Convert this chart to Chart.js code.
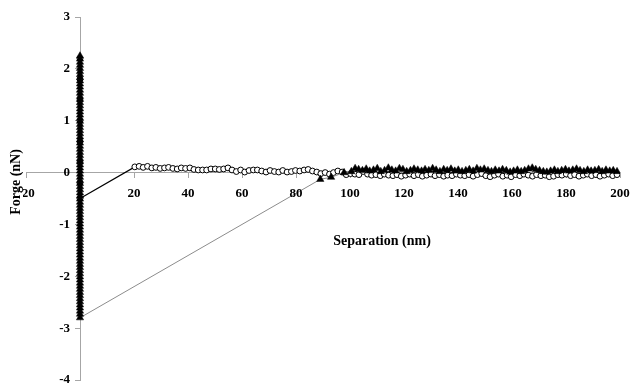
<!DOCTYPE html>
<html>
<head>
<meta charset="utf-8">
<script src="https://cdn.jsdelivr.net/npm/chart.js@4"></script>
<style>
  body { margin: 0; background: #fff; }
</style>
</head>
<body>
<canvas id="ChartForce" width="636" height="385"></canvas>
<script>
// approach curve (open circles): contact part at separation 0, then the baseline
const approachContactForce = [2.2, 1.8, 1.4, 1.0, 0.6, 0.2, -0.2, -0.5];
const approachSep = [
  20.3, 21.9, 23.4, 25.0, 26.6, 28.1, 29.7, 31.3, 32.8, 34.4,
  36.0, 37.5, 39.1, 40.7, 42.2, 43.8, 45.4, 46.9, 48.5, 50.1,
  51.6, 53.2, 54.8, 56.3, 57.9, 59.5, 61.0, 62.6, 64.2, 65.7,
  67.3, 68.9, 70.4, 72.0, 73.6, 75.1, 76.7, 78.3, 79.8, 81.4,
  83.0, 84.5, 86.1, 87.7, 89.2, 90.8, 92.4, 93.9, 95.5, 97.1,
  98.6, 100.2, 101.8, 103.3, 104.9, 106.5, 108.0, 109.6, 111.2, 112.7,
  114.3, 115.9, 117.4, 119.0, 120.6, 122.1, 123.7, 125.3, 126.8, 128.4,
  130.0, 131.5, 133.1, 134.7, 136.2, 137.8, 139.4, 140.9, 142.5, 144.1,
  145.6, 147.2, 148.8, 150.3, 151.9, 153.5, 155.0, 156.6, 158.2, 159.7,
  161.3, 162.9, 164.4, 166.0, 167.6, 169.1, 170.7, 172.3, 173.8, 175.4,
  177.0, 178.5, 180.1, 181.7, 183.2, 184.8, 186.4, 187.9, 189.5, 191.1,
  192.6, 194.2, 195.8, 197.3, 198.9
];
const approachForce = [
  0.11, 0.12, 0.10, 0.12, 0.09, 0.10, 0.08, 0.09, 0.10, 0.08,
  0.07, 0.09, 0.08, 0.09, 0.06, 0.05, 0.05, 0.05, 0.07, 0.07,
  0.06, 0.07, 0.09, 0.05, 0.02, 0.05, 0.01, 0.04, 0.05, 0.05,
  0.03, 0.01, 0.04, 0.02, 0.01, 0.04, 0.01, 0.02, 0.04, 0.03,
  0.05, 0.06, 0.03, 0.01, -0.02, 0.0, -0.03, 0.0, 0.03, 0.01,
  -0.04, -0.02, -0.03, -0.04, 0.02, -0.03, -0.05, -0.04, -0.06, -0.03,
  -0.05, -0.06, -0.04, -0.07, -0.05, -0.03, -0.06, -0.04, -0.07, -0.05,
  -0.03, -0.06, -0.04, -0.07, -0.05, -0.06, -0.03, -0.05, -0.06, -0.04,
  -0.07, -0.04, -0.02, -0.06, -0.08, -0.05, -0.03, -0.07, -0.05, -0.08,
  -0.04, -0.06, -0.03, -0.05, -0.07, -0.04, -0.06, -0.05, -0.08, -0.07,
  -0.04, -0.05, -0.03, -0.06, -0.04, -0.07, -0.05, -0.03, -0.06, -0.04,
  -0.07, -0.05, -0.03, -0.06, -0.04
];

// retraction curve (filled triangles): contact part at separation 0, then the baseline
const retractContactForce = [
  2.25, 2.19, 2.13, 2.07, 2.01, 1.95, 1.89, 1.83, 1.77, 1.71,
  1.65, 1.59, 1.53, 1.47, 1.41, 1.35, 1.29, 1.23, 1.17, 1.11,
  1.05, 0.99, 0.93, 0.87, 0.81, 0.75, 0.69, 0.63, 0.57, 0.51,
  0.45, 0.39, 0.33, 0.27, 0.21, 0.15, 0.09, 0.03, -0.03, -0.09,
  -0.15, -0.21, -0.27, -0.33, -0.39, -0.45, -0.51, -0.57, -0.63, -0.69,
  -0.75, -0.81, -0.87, -0.93, -0.99, -1.05, -1.11, -1.17, -1.23, -1.29,
  -1.35, -1.41, -1.47, -1.53, -1.59, -1.65, -1.71, -1.77, -1.83, -1.89,
  -1.95, -2.01, -2.07, -2.13, -2.19, -2.25, -2.31, -2.37, -2.43, -2.49,
  -2.55, -2.61, -2.67, -2.73, -2.80
];
const retractSep = [
  89.0, 93.0, 97.8,
  100.5, 101.9, 103.2, 104.6, 106.0, 107.3, 108.7, 110.1, 111.4, 112.8,
  114.2, 115.5, 116.9, 118.3, 119.6, 121.0, 122.4, 123.7, 125.1, 126.5,
  127.8, 129.2, 130.6, 131.9, 133.3, 134.7, 136.0, 137.4, 138.8, 140.1,
  141.5, 142.9, 144.2, 145.6, 147.0, 148.3, 149.7, 151.1, 152.4, 153.8,
  155.2, 156.5, 157.9, 159.3, 160.6, 162.0, 163.4, 164.7, 166.1, 167.5,
  168.8, 170.2, 171.6, 172.9, 174.3, 175.7, 177.0, 178.4, 179.8, 181.1,
  182.5, 183.9, 185.2, 186.6, 188.0, 189.3, 190.7, 192.1, 193.4, 194.8,
  196.2, 197.5, 198.9
];
const retractForce = [
  -0.13, -0.09, 0.0,
  0.02, 0.08, 0.06, 0.04, 0.07, 0.03, 0.05, 0.08, 0.02, 0.04,
  0.09, 0.05, 0.03, 0.08, 0.06, 0.02, 0.04, 0.07, 0.05, 0.03,
  0.06, 0.04, 0.08, 0.05, 0.02, 0.06, 0.04, 0.07, 0.03, 0.05,
  0.02, 0.04, 0.06, 0.03, 0.08, 0.05, 0.07, 0.04, 0.02, 0.05,
  0.03, 0.06, 0.04, 0.01, 0.03, 0.05, 0.02, 0.04, 0.07, 0.09,
  0.06, 0.04, 0.02, 0.01, 0.03, 0.05, 0.02, 0.04, 0.06, 0.03,
  0.05, 0.07, 0.04, 0.02, 0.05, 0.03, 0.04, 0.06, 0.02, 0.05,
  0.03, 0.04, 0.02
];

const xTitle = "Separation (nm)";
const yTitle = "Forge (nN)";

const approachPoints = approachContactForce.map(f => ({ x: 0, y: f }))
  .concat(approachSep.map((s, i) => ({ x: s, y: approachForce[i] })));
const retractPoints = retractContactForce.map(f => ({ x: 0, y: f }))
  .concat(retractSep.map((s, i) => ({ x: s, y: retractForce[i] })));

const fontFamily = "'Liberation Serif', 'Times New Roman', serif";
const axisGrey = "#a6a6a6";

// tick labels and axis titles drawn by hand, the axes cross at 0 like the original
const labelsPlugin = {
  id: "labels",
  afterDraw(chart) {
    const ctx = chart.ctx;
    const xs = chart.scales.x;
    const ys = chart.scales.y;
    const axisX = xs.getPixelForValue(0);
    const axisY = ys.getPixelForValue(0);
    ctx.save();
    ctx.font = "bold 13px " + fontFamily;
    ctx.fillStyle = "#000";
    ctx.textBaseline = "middle";
    ctx.textAlign = "right";
    ys.ticks.forEach(t => {
      ctx.fillText(String(t.value), axisX - 10, ys.getPixelForValue(t.value));
    });
    ctx.textAlign = "center";
    xs.ticks.forEach(t => {
      if (t.value === 0) return;
      ctx.fillText(String(t.value), xs.getPixelForValue(t.value), axisY + 21);
    });
    ctx.font = "bold 14px " + fontFamily;
    ctx.fillText(xTitle, 382, 241);
    ctx.translate(16, 182);
    ctx.rotate(-Math.PI / 2);
    const w = ctx.measureText(yTitle).width;
    ctx.fillStyle = "#fff";
    ctx.fillRect(-w / 2 - 1, -7, w + 2, 14);
    ctx.fillStyle = "#000";
    ctx.fillText(yTitle, 0, 0);
    ctx.restore();
  },
};

new Chart(document.getElementById("ChartForce"), {
  type: "scatter",
  data: {
    datasets: [
      {
        label: "Retract",
        data: retractPoints,
        showLine: true,
        borderColor: "#8c8c8c",
        borderWidth: 1,
        pointStyle: "triangle",
        pointRadius: 4.2,
        pointBackgroundColor: "#000",
        pointBorderColor: "#000",
        pointBorderWidth: 0.5,
      },
      {
        label: "Approach",
        data: approachPoints,
        showLine: true,
        borderColor: "#000",
        borderWidth: 1.2,
        pointStyle: "circle",
        pointRadius: 2.9,
        pointBackgroundColor: "#fff",
        pointBorderColor: "#000",
        pointBorderWidth: 1,
      },
    ],
  },
  options: {
    responsive: false,
    animation: false,
    layout: { padding: { left: 26, right: 16, top: 17, bottom: 5 } },
    plugins: {
      legend: { display: false },
      tooltip: { enabled: false },
    },
    scales: {
      x: {
        type: "linear",
        min: -20,
        max: 200,
        position: { y: 0 },
        border: { color: axisGrey, width: 1 },
        grid: { drawOnChartArea: false, drawTicks: true, tickLength: 5, color: axisGrey },
        ticks: { display: false, stepSize: 20 },
      },
      y: {
        type: "linear",
        min: -4,
        max: 3,
        position: { x: 0 },
        border: { color: axisGrey, width: 1 },
        grid: { drawOnChartArea: false, drawTicks: true, tickLength: 5, color: axisGrey },
        ticks: { display: false, stepSize: 1 },
      },
    },
  },
  plugins: [labelsPlugin],
});
</script>
</body>
</html>
